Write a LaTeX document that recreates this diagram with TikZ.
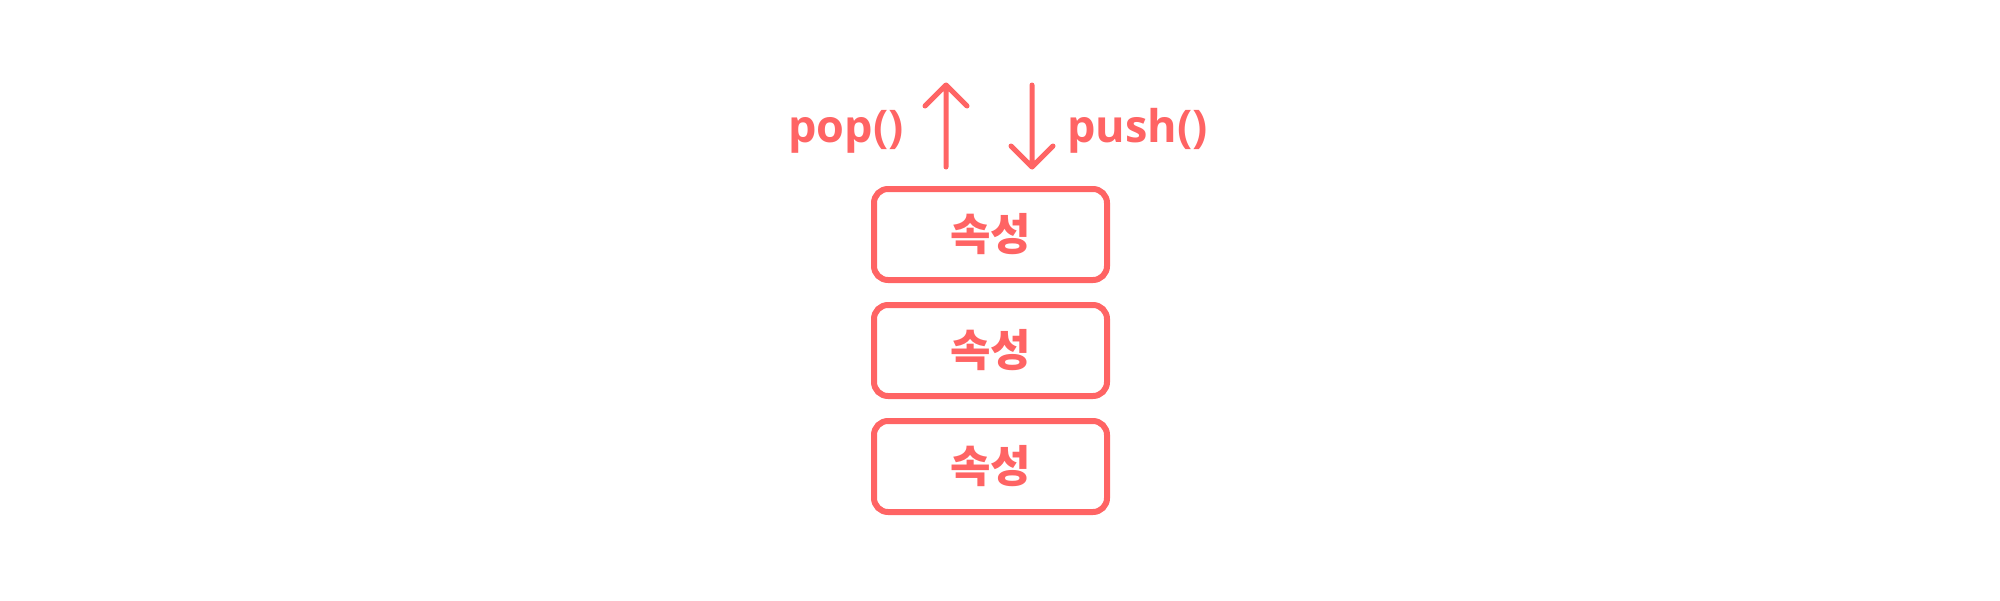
\documentclass[tikz,border=0pt]{standalone}
\usepackage{fontspec}
\setmainfont{Noto Sans CJK KR}
\newfontfamily\latinsans{Open Sans}
\definecolor{salmon}{HTML}{FF6464}
\begin{document}
\begin{tikzpicture}[x=1pt,y=-1pt,
  stackbox/.style={draw=salmon, line width=6pt, rounded corners=14pt,
    minimum width=233pt, minimum height=91pt, inner sep=0pt,
    font=\bfseries\fontsize{44}{44}\selectfont, text=salmon},
  oplabel/.style={inner sep=0pt, font=\latinsans\bfseries\fontsize{45}{45}\selectfont, text=salmon},
  arrowline/.style={draw=salmon, line width=5pt, line cap=round, line join=round}]
\useasboundingbox (0,0) rectangle (2000,600);
\node[stackbox] (b1) at (990.5,234.5) {속성};
\node[stackbox] (b2) at (990.5,350.5) {속성};
\node[stackbox] (b3) at (990.5,466.5) {속성};
\coordinate (popbot) at (946,167);
\coordinate (poptop) at (946,85);
\coordinate (pushtop) at (1032,85);
\coordinate (pushbot) at (1032,167);
\draw[arrowline] (popbot) -- (poptop) -- ++(-21,21) (poptop) -- ++(21,21);
\draw[arrowline] (pushtop) -- (pushbot) -- ++(-21,-21) (pushbot) -- ++(21,-21);
\node[oplabel, anchor=base east] (pop) at (904,142) {pop()};
\node[oplabel, anchor=base west] (push) at (1067,142) {push()};
\end{tikzpicture}
\end{document}
